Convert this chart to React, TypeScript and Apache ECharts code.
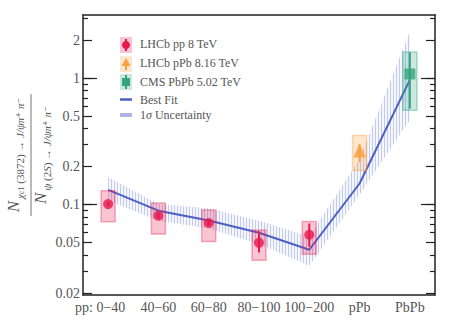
import React, { useEffect, useRef } from "react";
import * as echarts from "echarts";

const categories = ["pp: 0−40", "40−60", "60−80", "80−100", "100−200", "pPb", "PbPb"];
const yTickValues = [0.02, 0.05, 0.1, 0.2, 0.5, 1, 2];
const yTickLabels = ["0.02", "0.05", "0.1", "0.2", "0.5", "1", "2"];
const yDecadeTicks = [0.1, 1];
const yMinorTicks = [0.03, 0.04, 0.06, 0.07, 0.08, 0.09, 0.3, 0.4, 0.6, 0.7, 0.8, 0.9, 3];
const yMin = 0.0193;
const yMax = 3.16;

// LHCb pp 8 TeV (categories 0..4)
const ppValue = [0.101, 0.0818, 0.0716, 0.0499, 0.0578];
const ppSystLow = [0.0733, 0.0585, 0.0511, 0.0364, 0.0406];
const ppSystHigh = [0.129, 0.103, 0.0908, 0.063, 0.0737];
const ppStatLow = [0.097, 0.078, 0.068, 0.0418, 0.0465];
const ppStatHigh = [0.105, 0.086, 0.075, 0.0617, 0.071];

// LHCb pPb 8.16 TeV (category 5)
const pPbValue = [0.268];
const pPbSystLow = [0.186];
const pPbSystHigh = [0.353];
const pPbStatLow = [0.217];
const pPbStatHigh = [0.3];

// CMS PbPb 5.02 TeV (category 6)
const PbPbValue = [1.08];
const PbPbSystLow = [0.557];
const PbPbSystHigh = [1.61];
const PbPbStatLow = [0.575];
const PbPbStatHigh = [1.6];

// Best fit and 1 sigma band (all categories)
const fitValue = [0.131, 0.0896, 0.075, 0.06, 0.044, 0.147, 0.97];
const bandLow = [0.108, 0.0747, 0.0649, 0.0488, 0.0328, 0.12, 0.47];
const bandHigh = [0.165, 0.101, 0.0935, 0.0747, 0.056, 0.23, 2.33];

const L = (v: number) => Math.log10(v);
const SERIF = "'Liberation Serif', 'Times New Roman', 'DejaVu Serif', serif";
const AXIS_COLOR = "#222";
const LABEL_COLOR = "#555";

const RED = "#e8174d";
const ORANGE = "#f9a03f";
const GREEN = "#35a47d";
const BLUE = "#4c5fc4";

function boxRender(fill: string, stroke: string) {
  return (params: any, api: any) => {
    const x = api.value(0);
    const lo = api.coord([x, api.value(1)]);
    const hi = api.coord([x, api.value(2)]);
    const w = 14;
    return {
      type: "rect",
      shape: { x: lo[0] - w / 2, y: hi[1], width: w, height: lo[1] - hi[1] },
      style: { fill, stroke, lineWidth: 1.5 },
    };
  };
}

function barRender(color: string) {
  return (params: any, api: any) => {
    const x = api.value(0);
    const lo = api.coord([x, api.value(1)]);
    const hi = api.coord([x, api.value(2)]);
    return {
      type: "line",
      shape: { x1: lo[0], y1: lo[1], x2: hi[0], y2: hi[1] },
      style: { stroke: color, lineWidth: 2 },
    };
  };
}

export default function App() {
  const ref = useRef<HTMLDivElement>(null);

  useEffect(() => {
    document.body.style.margin = "0";
    if (!ref.current) return;
    const chart = echarts.init(ref.current, undefined, { renderer: "svg" });

    const c = document.createElement("canvas");
    c.width = 3;
    c.height = 6;
    const ctx = c.getContext("2d")!;
    ctx.fillStyle = "rgba(236,239,252,0.5)";
    ctx.fillRect(0, 0, 3, 6);
    ctx.fillStyle = "rgba(160,172,232,0.6)";
    ctx.fillRect(0, 0, 1, 6);
    const pattern: any = { image: c, repeat: "repeat", imageWidth: 3, imageHeight: 6 };

    const tickStyle = { color: AXIS_COLOR, width: 1.2 };
    const yBase: any = {
      type: "value",
      min: L(yMin),
      max: L(yMax),
      splitLine: { show: false },
      axisLine: { show: false },
      axisLabel: { show: false },
      axisTick: { show: false },
    };
    const labelFor = (v: number) => {
      for (let i = 0; i < yTickValues.length; i++) {
        if (Math.abs(L(yTickValues[i]) - v) < 1e-6) return yTickLabels[i];
      }
      return "";
    };
    const mkTicks = (position: string, values: number[], length: number) => ({
      ...yBase,
      position,
      axisTick: { show: true, inside: true, length, customValues: values.map(L), lineStyle: tickStyle },
    });

    const yAxis: any[] = [
      {
        ...yBase,
        position: "left",
        axisLine: { show: true, onZero: false, lineStyle: { color: AXIS_COLOR, width: 1.5 } },
        axisTick: { show: true, inside: true, length: 9, customValues: yTickValues.map(L), lineStyle: tickStyle },
        axisLabel: {
          show: true,
          customValues: yTickValues.map(L),
          formatter: (v: number) => labelFor(v),
          fontFamily: SERIF,
          fontSize: 14,
          color: LABEL_COLOR,
          margin: 3,
        },
      },
      mkTicks("left", yDecadeTicks, 14),
      mkTicks("left", yMinorTicks, 5),
      {
        ...yBase,
        position: "right",
        axisLine: { show: true, onZero: false, lineStyle: { color: AXIS_COLOR, width: 1.5 } },
        axisTick: { show: true, inside: true, length: 9, customValues: yTickValues.map(L), lineStyle: tickStyle },
      },
      mkTicks("right", yDecadeTicks, 14),
      mkTicks("right", yMinorTicks, 5),
    ];

    const xAxis: any[] = [
      {
        type: "category",
        data: categories,
        position: "bottom",
        boundaryGap: true,
        axisLine: { show: true, onZero: false, lineStyle: { color: AXIS_COLOR, width: 1.5 } },
        axisTick: { show: false },
        axisLabel: {
          fontFamily: SERIF,
          fontSize: 14,
          color: LABEL_COLOR,
          margin: 5,
          interval: 0,
          formatter: (v: string, i: number) => (i === 0 ? `{a|${v}}` : v),
          rich: { a: { fontFamily: SERIF, fontSize: 14, color: LABEL_COLOR, padding: [0, 16, 0, 0] } },
        },
      },
      {
        type: "category",
        data: categories,
        position: "top",
        boundaryGap: true,
        axisLine: { show: true, onZero: false, lineStyle: { color: AXIS_COLOR, width: 1.5 } },
        axisTick: { show: false },
        axisLabel: { show: false },
      },
    ];

    const ppBoxes = ppValue.map((_, i) => [i, L(ppSystLow[i]), L(ppSystHigh[i])]);
    const ppBars = ppValue.map((_, i) => [i, L(ppStatLow[i]), L(ppStatHigh[i])]);
    const pPbBoxes = pPbValue.map((_, i) => [5 + i, L(pPbSystLow[i]), L(pPbSystHigh[i])]);
    const pPbBars = pPbValue.map((_, i) => [5 + i, L(pPbStatLow[i]), L(pPbStatHigh[i])]);
    const PbPbBoxes = PbPbValue.map((_, i) => [6 + i, L(PbPbSystLow[i]), L(PbPbSystHigh[i])]);
    const PbPbBars = PbPbValue.map((_, i) => [6 + i, L(PbPbStatLow[i]), L(PbPbStatHigh[i])]);

    const custom = (data: number[][], renderItem: any, z: number) => ({
      type: "custom",
      data,
      renderItem,
      encode: { x: 0, y: [1, 2] },
      z,
      silent: true,
    });

    const series: any[] = [
      {
        type: "line",
        stack: "band",
        stackStrategy: "all",
        data: bandLow.map(L),
        symbol: "none",
        lineStyle: { opacity: 0 },
        silent: true,
        z: 1,
      },
      {
        type: "line",
        stack: "band",
        stackStrategy: "all",
        data: bandHigh.map((h, i) => L(h) - L(bandLow[i])),
        symbol: "none",
        lineStyle: { opacity: 0 },
        areaStyle: { color: pattern, opacity: 1 },
        silent: true,
        z: 1,
      },
      {
        type: "line",
        data: fitValue.map(L),
        symbol: "none",
        lineStyle: { color: BLUE, width: 2 },
        silent: true,
        z: 3,
      },
      custom(ppBoxes, boxRender("rgba(232,23,77,0.25)", "rgba(232,23,77,0.35)"), 4),
      custom(pPbBoxes, boxRender("rgba(249,160,63,0.25)", "rgba(249,160,63,0.4)"), 4),
      custom(PbPbBoxes, boxRender("rgba(53,164,125,0.25)", "rgba(53,164,125,0.4)"), 4),
      custom(ppBars, barRender(RED), 5),
      custom(pPbBars, barRender(ORANGE), 5),
      custom(PbPbBars, barRender(GREEN), 5),
      {
        type: "scatter",
        data: ppValue.map((v, i) => [i, L(v)]),
        symbol: "circle",
        symbolSize: 10,
        itemStyle: { color: RED },
        silent: true,
        z: 6,
      },
      {
        type: "scatter",
        data: pPbValue.map((v, i) => [5 + i, L(v)]),
        symbol: "triangle",
        symbolSize: [13, 14],
        itemStyle: { color: ORANGE },
        silent: true,
        z: 6,
      },
      {
        type: "scatter",
        data: PbPbValue.map((v, i) => [6 + i, L(v)]),
        symbol: "rect",
        symbolSize: 11,
        itemStyle: { color: GREEN },
        silent: true,
        z: 6,
      },
    ];

    const legendText = (y: number, text: string, rich?: any) => ({
      type: "text",
      x: 140,
      y,
      style: {
        text,
        fill: LABEL_COLOR,
        fontFamily: SERIF,
        fontSize: 12,
        verticalAlign: "middle",
        align: "left",
        rich,
      },
    });

    const titleRich = {
      N: { fontFamily: SERIF, fontSize: 17, fontStyle: "italic", fill: LABEL_COLOR, verticalAlign: "bottom", padding: [0, 2, 3, 0] },
      s: { fontFamily: SERIF, fontSize: 11, fontStyle: "italic", fill: LABEL_COLOR, verticalAlign: "bottom" },
      u: { fontFamily: SERIF, fontSize: 11, fill: LABEL_COLOR, verticalAlign: "bottom" },
      ss: { fontFamily: SERIF, fontSize: 8, fill: LABEL_COLOR, verticalAlign: "bottom" },
    };

    const graphic: any[] = [
      // legend icons
      { type: "rect", shape: { x: 120, y: 37, width: 12, height: 16 }, style: { fill: "rgba(232,23,77,0.25)" } },
      { type: "line", shape: { x1: 126, y1: 39, x2: 126, y2: 51 }, style: { stroke: RED, lineWidth: 2 } },
      { type: "circle", shape: { cx: 126, cy: 45, r: 4 }, style: { fill: RED } },
      { type: "rect", shape: { x: 120, y: 56, width: 12, height: 16 }, style: { fill: "rgba(249,160,63,0.25)" } },
      { type: "line", shape: { x1: 126, y1: 63, x2: 126, y2: 70 }, style: { stroke: ORANGE, lineWidth: 2 } },
      { type: "polygon", shape: { points: [[126, 58], [121.5, 66], [130.5, 66]] }, style: { fill: ORANGE } },
      { type: "rect", shape: { x: 120, y: 74, width: 12, height: 16 }, style: { fill: "rgba(53,164,125,0.25)" } },
      { type: "line", shape: { x1: 126, y1: 75, x2: 126, y2: 89 }, style: { stroke: GREEN, lineWidth: 2 } },
      { type: "rect", shape: { x: 122, y: 78, width: 8, height: 8 }, style: { fill: GREEN } },
      { type: "line", shape: { x1: 120, y1: 99.5, x2: 132, y2: 99.5 }, style: { stroke: BLUE, lineWidth: 2.5 } },
      { type: "rect", shape: { x: 120, y: 113, width: 12, height: 4 }, style: { fill: "#a9b3e6" } },
      legendText(44, "LHCb pp 8 TeV"),
      legendText(63, "LHCb pPb 8.16 TeV"),
      legendText(82, "CMS PbPb 5.02 TeV"),
      legendText(99.5, "Best Fit"),
      legendText(115, "{a|1}{b|σ}{a| Uncertainty}", {
        a: { fontFamily: SERIF, fontSize: 12, fill: LABEL_COLOR },
        b: { fontFamily: SERIF, fontSize: 12, fontStyle: "italic", fill: LABEL_COLOR },
      }),
      // y-axis title as a fraction
      {
        type: "text",
        x: 15,
        y: 155,
        rotation: Math.PI / 2,
        style: {
          text: "{N|N}{s|χ}{ss|c1}{u| (3872) → }{s|J/ψπ⁺ π⁻}",
          rich: titleRich,
          align: "center",
          verticalAlign: "middle",
          fill: LABEL_COLOR,
        },
      },
      { type: "line", shape: { x1: 31, y1: 94, x2: 31, y2: 216 }, style: { stroke: "#777", lineWidth: 1 } },
      {
        type: "text",
        x: 42,
        y: 155,
        rotation: Math.PI / 2,
        style: {
          text: "{N|N}{s|ψ}{u| (2}{s|S}{u|) → }{s|J/ψπ⁺ π⁻}",
          rich: titleRich,
          align: "center",
          verticalAlign: "middle",
          fill: LABEL_COLOR,
        },
      },
    ];

    chart.setOption({
      animation: false,
      grid: { left: 83, right: 22, top: 15, bottom: 39, containLabel: false, outerBoundsMode: "none" },
      xAxis,
      yAxis,
      series,
      graphic,
    });

    return () => chart.dispose();
  }, []);

  return <div ref={ref} style={{ width: 457, height: 334 }} />;
}
